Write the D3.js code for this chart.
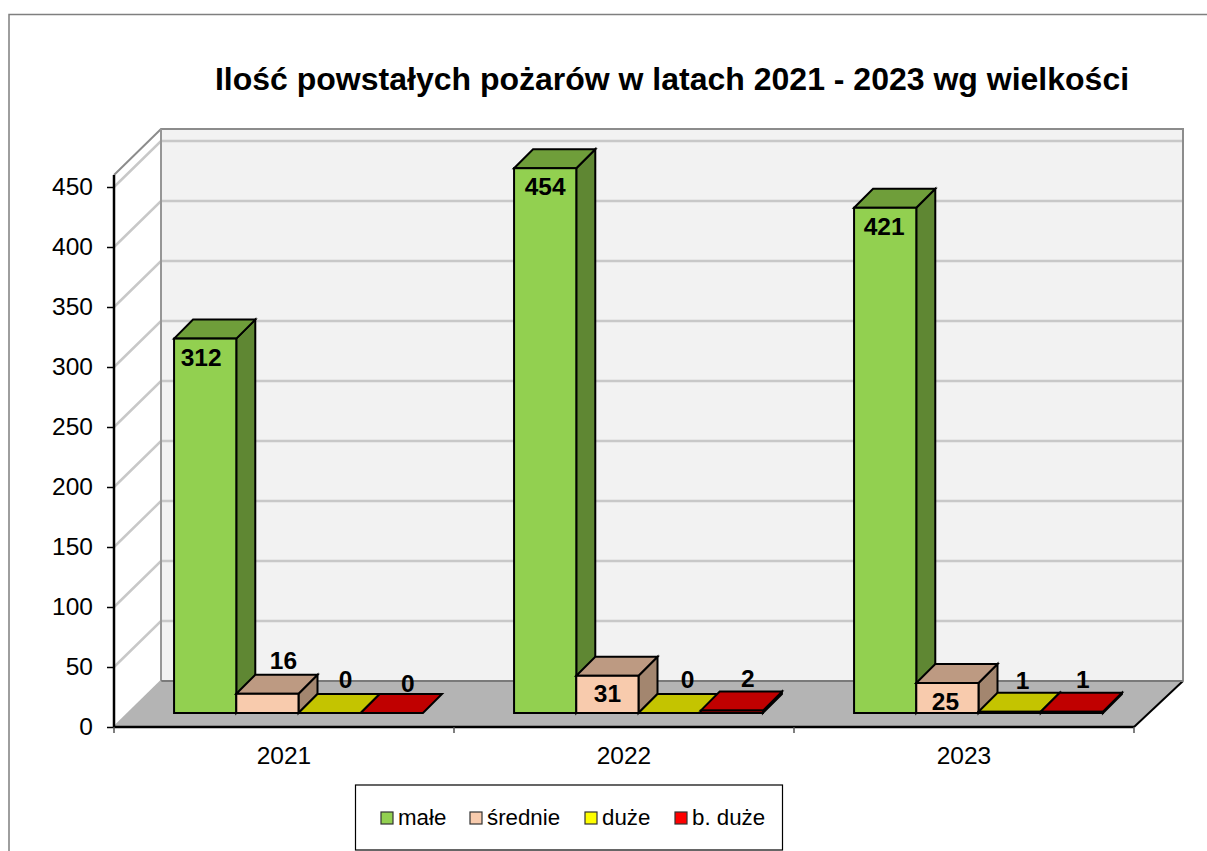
<!DOCTYPE html>
<html lang="pl">
<head>
<meta charset="utf-8">
<script src="https://cdnjs.cloudflare.com/ajax/libs/d3/7.8.5/d3.min.js"></script>
<style>
html,body{margin:0;padding:0;background:#fff;overflow:hidden}
svg{display:block}
text{font-family:"Liberation Sans",Arial,sans-serif;fill:#000}
</style>
</head>
<body>
<script>
const years = ["2021", "2022", "2023"];
const seriesNames = ["małe", "średnie", "duże", "b. duże"];
const male = [312, 454, 421];
const srednie = [16, 31, 25];
const duze = [0, 0, 1];
const bDuze = [0, 2, 1];
const yTicks = [0, 50, 100, 150, 200, 250, 300, 350, 400, 450];
const title = "Ilość powstałych pożarów w latach 2021 - 2023 wg wielkości";

const seriesValues = [male, srednie, duze, bDuze];
const W = 1207, H = 851;
const front = {x0: 114, x1: 1134, y0: 727, yTop: 175};
const depth = {dx: 47, dy: -46};
const barInset = 14.5, barDepth = 19;

const styles = [
  {front: "#92d050", top: "#6f9e3a", side: "#5f8733", legend: "#92d050"},
  {front: "#f8cbad", top: "#bd9a82", side: "#a3866f", legend: "#f8cbad"},
  {front: "#ffff00", top: "#c4c400", side: "#a0a000", legend: "#ffff00"},
  {front: "#ff0000", top: "#c00000", side: "#990000", legend: "#ff0000"}
];
// label nudges from the default spot, per series then per year
const nudges = [
  [[-4, 1], [0, 1], [-1, 1]],
  [[0, 0], [0, 0], [-2, 1]],
  [[0, 0], [2, 0], [-3, 2]],
  [[0, 4], [0, 1], [-5, 1]]
];

const svg = d3.select("body").append("svg").attr("width", W).attr("height", H);
const y = d3.scaleLinear().domain([0, 450]).range([front.y0, 187]);
const x0 = d3.scaleBand().domain(years).range([front.x0, front.x1]).paddingInner(0.268).paddingOuter(0.134);
const x1 = d3.scaleBand().domain(d3.range(4)).range([0, x0.bandwidth()]);
const pts = a => a.map(p => p.join(",")).join(" ");

// outer frame
svg.append("rect").attr("x", 9).attr("y", 14.5).attr("width", W + 20).attr("height", H + 20)
  .attr("fill", "#fff").attr("stroke", "#7f7f7f").attr("stroke-width", 1.5);

// title
svg.append("text").attr("x", 672).attr("y", 90).attr("text-anchor", "middle")
  .attr("font-size", 32).attr("font-weight", "bold").text(title);

// walls and floor
const bx0 = front.x0 + depth.dx, bx1 = front.x1 + depth.dx + 2;
svg.append("polygon").attr("points", pts([[bx0, front.yTop + depth.dy], [bx1, front.yTop + depth.dy], [bx1, front.y0 + depth.dy], [bx0, front.y0 + depth.dy]]))
  .attr("fill", "#f2f2f2");
svg.append("polygon").attr("points", pts([[front.x0, front.y0], [bx0, front.y0 + depth.dy], [bx1, front.y0 + depth.dy], [front.x1, front.y0]]))
  .attr("fill", "#b4b4b4");

// gridlines
const grid = svg.append("g").attr("fill", "none").attr("stroke", "#c8c8c8").attr("stroke-width", 2.5);
yTicks.filter(t => t > 0).forEach(t => {
  grid.append("polyline").attr("points", pts([[front.x0, y(t)], [bx0, y(t) + depth.dy], [bx1, y(t) + depth.dy]]));
});

// wall edges
svg.append("polyline").attr("points", pts([[front.x0, front.yTop], [bx0, front.yTop + depth.dy], [bx1, front.yTop + depth.dy], [bx1, front.y0 + depth.dy]]))
  .attr("fill", "none").attr("stroke", "#8c8c8c").attr("stroke-width", 2);
svg.append("line").attr("x1", bx1).attr("x2", front.x1).attr("y1", front.y0 + depth.dy).attr("y2", front.y0)
  .attr("stroke", "#000").attr("stroke-width", 2);
svg.append("line").attr("x1", bx0).attr("x2", bx0).attr("y1", front.yTop + depth.dy).attr("y2", front.y0 + depth.dy)
  .attr("stroke", "#969696").attr("stroke-width", 2);
svg.append("line").attr("x1", bx0).attr("x2", bx1).attr("y1", front.y0 + depth.dy).attr("y2", front.y0 + depth.dy)
  .attr("stroke", "#7a7a7a").attr("stroke-width", 2);
svg.append("line").attr("x1", front.x0).attr("x2", bx0).attr("y1", front.y0).attr("y2", front.y0 + depth.dy)
  .attr("stroke", "#b4b4b4").attr("stroke-width", 2);

// bars
const marks = svg.append("g").attr("stroke", "#000").attr("stroke-width", 2).attr("stroke-linejoin", "miter");
const labels = [];
years.forEach((yr, yi) => {
  seriesValues.forEach((vals, si) => {
    const v = vals[yi], st = styles[si];
    const xl = x0(yr) + x1(si) + barInset, xr = xl + x1.bandwidth();
    const yb = y(0) - 14, yt = y(v) - 14;
    const d = barDepth;
    if (v > 0) marks.append("polygon").attr("points", pts([[xr, yt], [xr + d, yt - d], [xr + d, yb - d], [xr, yb]])).attr("fill", st.side);
    marks.append("polygon").attr("points", pts([[xl, yt], [xl + d, yt - d], [xr + d, yt - d], [xr, yt]])).attr("fill", st.top);
    if (v > 0) marks.append("rect").attr("x", xl).attr("y", yt).attr("width", xr - xl).attr("height", yb - yt).attr("fill", st.front);
    const inFront = v > 24 && si < 2;
    const n = nudges[si][yi];
    labels.push({
      v,
      x: (xl + xr) / 2 + (si === 0 || inFront ? 0 : 16) + n[0],
      y: (inFront ? yt + 26 : yt - 25) + n[1]
    });
  });
});

// axes
const yAxis = d3.axisLeft(y).tickValues(yTicks).tickSize(7).tickPadding(14).tickSizeOuter(0);
const gy = svg.append("g").attr("transform", `translate(${front.x0},0)`).call(yAxis);
gy.selectAll("text").attr("font-size", 24.5).attr("font-family", null).style("font-family", '"Liberation Sans",Arial,sans-serif');
gy.selectAll("line").attr("stroke", "#000").attr("stroke-width", 1.5);
gy.select(".domain").remove();
svg.append("line").attr("x1", front.x0).attr("x2", front.x0).attr("y1", front.yTop).attr("y2", front.y0 + 1)
  .attr("stroke", "#000").attr("stroke-width", 2.5);
svg.append("line").attr("x1", front.x0).attr("x2", front.x1).attr("y1", front.y0).attr("y2", front.y0)
  .attr("stroke", "#000").attr("stroke-width", 2.5);

const xTickPos = d3.range(years.length + 1).map(i => front.x0 + i * x0.step());
svg.append("g").selectAll("line").data(xTickPos).join("line")
  .attr("x1", d => d).attr("x2", d => d).attr("y1", front.y0).attr("y2", front.y0 + 6)
  .attr("stroke", "#555").attr("stroke-width", 1.5);
svg.append("g").selectAll("text").data(years).join("text")
  .attr("x", d => x0(d) + x0.bandwidth() / 2).attr("y", 764)
  .attr("text-anchor", "middle").attr("font-size", 24.5).text(d => d);

// data labels
svg.append("g").selectAll("text").data(labels).join("text")
  .attr("x", d => d.x).attr("y", d => d.y)
  .attr("text-anchor", "middle").attr("font-size", 24.5).attr("font-weight", "bold").text(d => d.v);

// legend
const legend = svg.append("g");
legend.append("rect").attr("x", 355.5).attr("y", 785).attr("width", 427).attr("height", 65)
  .attr("fill", "#fff").attr("stroke", "#000").attr("stroke-width", 1.2);
const legendX = [381, 470, 585, 675];
seriesNames.forEach((name, i) => {
  legend.append("rect").attr("x", legendX[i]).attr("y", 812).attr("width", 12).attr("height", 12)
    .attr("fill", styles[i].legend).attr("stroke", "#333").attr("stroke-width", 1.2);
  legend.append("text").attr("x", legendX[i] + 17).attr("y", 825).attr("font-size", 22.3).text(name);
});
</script>
</body>
</html>
